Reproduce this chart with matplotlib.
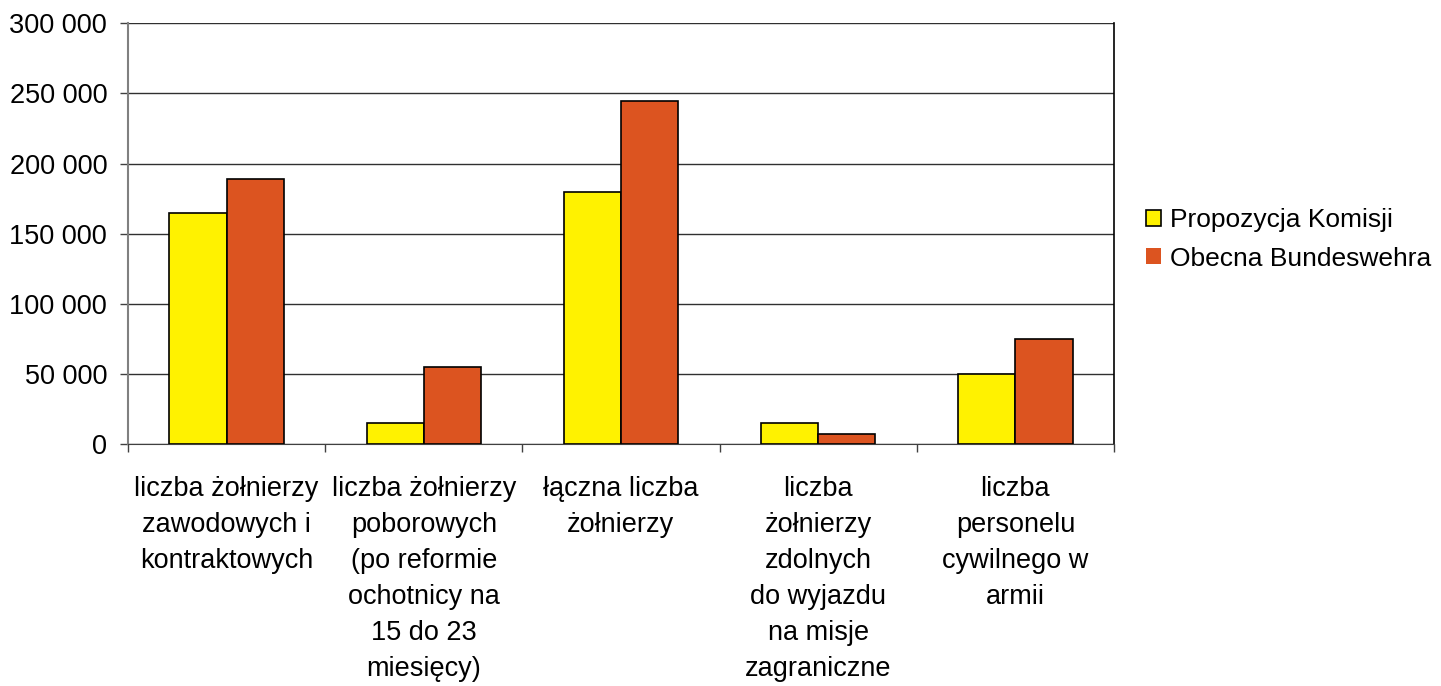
import numpy as np
import matplotlib; matplotlib.use("Agg")
import matplotlib.pyplot as plt
from matplotlib.ticker import FuncFormatter, MultipleLocator
from matplotlib.patches import Patch

plt.rcParams['font.family'] = ['Liberation Sans', 'DejaVu Sans']

categories = [
    "liczba żołnierzy\nzawodowych i\nkontraktowych",
    "liczba żołnierzy\npoborowych\n(po reformie\nochotnicy na\n15 do 23\nmiesięcy)",
    "łączna liczba\nżołnierzy",
    "liczba\nżołnierzy\nzdolnych\ndo wyjazdu\nna misje\nzagraniczne",
    "liczba\npersonelu\ncywilnego w\narmii",
]
series_names = ["Propozycja Komisji", "Obecna Bundeswehra"]
komisja = [165000, 15000, 180000, 15000, 50000]
bundeswehra = [189000, 55000, 245000, 7000, 75000]
colors = ["#FFF200", "#DC5420"]

fig = plt.figure(figsize=(14.41, 6.86), dpi=100)
ax = fig.add_axes([0.0888, 0.3523, 0.7731 - 0.0888, 0.966 - 0.3523])

x = np.arange(len(categories))
w = 0.29
ax.bar(x - w / 2, komisja, w, color=colors[0], edgecolor="black", linewidth=1.2, zorder=3)
ax.bar(x + w / 2, bundeswehra, w, color=colors[1], edgecolor="black", linewidth=1.2, zorder=3)

ax.set_xlim(-0.5, len(categories) - 0.5)
ax.set_ylim(0, 300000)
ax.yaxis.set_major_locator(MultipleLocator(50000))
ax.yaxis.set_major_formatter(FuncFormatter(lambda v, p: f"{int(v):,}".replace(",", " ")))
ax.grid(axis="y", color="#303030", linewidth=1, zorder=0)

ax.set_xticks(x)
ax.set_xticklabels(categories, fontsize=19.5, linespacing=1.5, va="top")
ax.set_xticks(np.arange(-0.5, len(categories)), minor=True)
ax.tick_params(axis="x", which="major", length=0, pad=23)
ax.tick_params(axis="x", which="minor", length=6, width=1, color="#404040")
ax.tick_params(axis="y", length=6, width=1, color="#404040", labelsize=19.5, pad=9)

ax.spines["top"].set_visible(False)
ax.spines["left"].set_color("#808080")
ax.spines["left"].set_linewidth(1.5)
ax.spines["bottom"].set_color("#404040")
ax.spines["right"].set_color("black")
ax.spines["right"].set_linewidth(1.2)

handles = [Patch(facecolor=colors[0], edgecolor="black", linewidth=1.2),
           Patch(facecolor=colors[1], edgecolor="none")]
fig.legend(handles, series_names, loc="center left", bbox_to_anchor=(0.788, 0.651),
           frameon=False, fontsize=19, handlelength=0.55, handleheight=0.55,
           handletextpad=0.35, labelspacing=0.55, borderaxespad=0)

fig.savefig("out.png", dpi=100)
